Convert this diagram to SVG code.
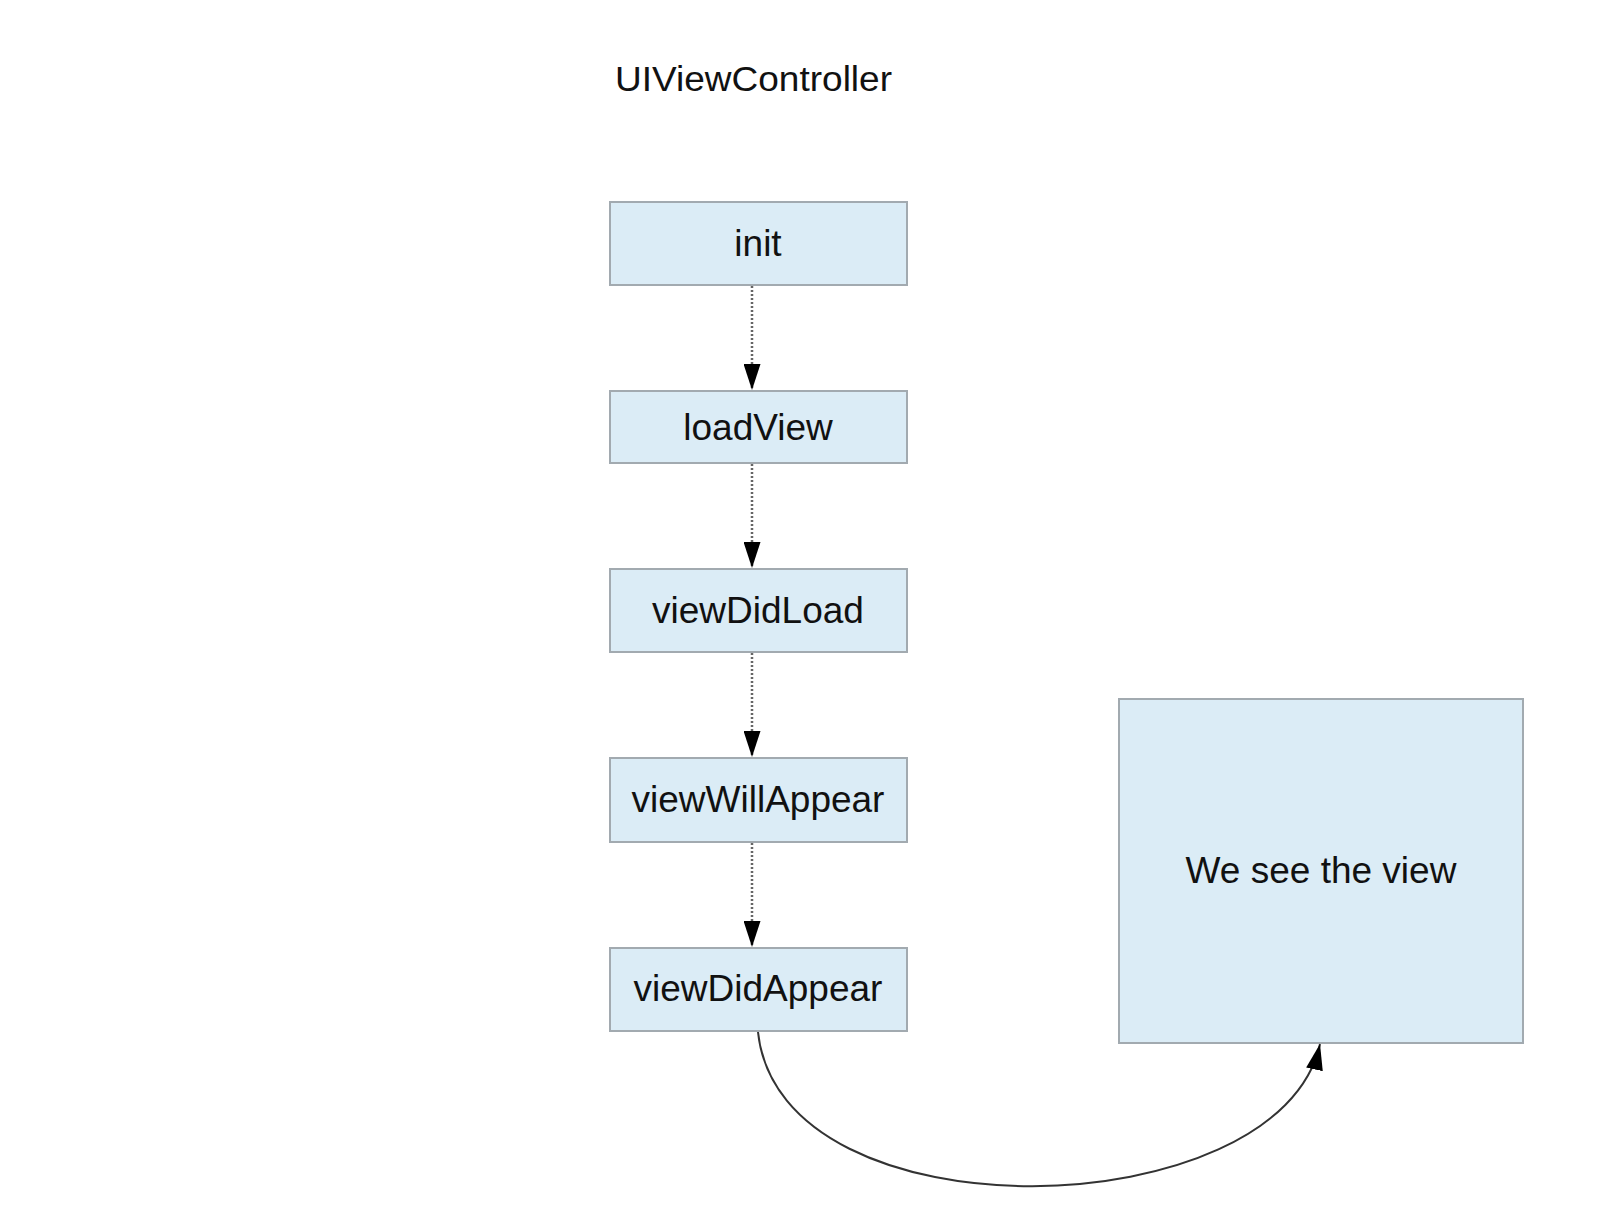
<svg xmlns="http://www.w3.org/2000/svg" width="1624" height="1224" viewBox="0 0 1624 1224">
  <style>
    .box { fill: #dbecf6; stroke: #a2aab0; stroke-width: 2; }
    .lbl { font-family: "Liberation Sans", Arial, sans-serif; font-size: 37px; fill: #111; text-anchor: middle; }
    .title { font-family: "Liberation Sans", Arial, sans-serif; font-size: 35px; fill: #111; text-anchor: middle; }
    .dot { fill: none; stroke: #666; stroke-width: 2.5; stroke-dasharray: 2 2; }
    .solid { fill: none; stroke: #333; stroke-width: 2; }
  </style>
  <defs>
    <marker id="arrow" viewBox="0 0 26 17" refX="26" refY="8.5" markerWidth="26" markerHeight="17" markerUnits="userSpaceOnUse" orient="auto">
      <path d="M0,0 L26,8.5 L0,17 Z" fill="#000"/>
    </marker>
  </defs>
  <rect width="1624" height="1224" fill="#fff"/>

  <text class="title" x="753.5" y="91" textLength="277" lengthAdjust="spacingAndGlyphs">UIViewController</text>

  <g id="node-init">
    <rect class="box" x="610" y="202" width="297" height="83"/>
    <text class="lbl" x="758" y="256">init</text>
  </g>
  <g id="node-loadView">
    <rect class="box" x="610" y="391" width="297" height="72"/>
    <text class="lbl" x="758" y="439.5">loadView</text>
  </g>
  <g id="node-viewDidLoad">
    <rect class="box" x="610" y="569" width="297" height="83"/>
    <text class="lbl" x="758" y="623">viewDidLoad</text>
  </g>
  <g id="node-viewWillAppear">
    <rect class="box" x="610" y="758" width="297" height="84"/>
    <text class="lbl" x="758" y="812">viewWillAppear</text>
  </g>
  <g id="node-viewDidAppear">
    <rect class="box" x="610" y="948" width="297" height="83"/>
    <text class="lbl" x="758" y="1001">viewDidAppear</text>
  </g>
  <g id="node-weSeeTheView">
    <rect class="box" x="1119" y="699" width="404" height="344"/>
    <text class="lbl" x="1321" y="883">We see the view</text>
  </g>

  <g id="connectors">
    <path class="dot" d="M752,286 L752,390" marker-end="url(#arrow)"/>
    <path class="dot" d="M752,464 L752,568" marker-end="url(#arrow)"/>
    <path class="dot" d="M752,653 L752,757" marker-end="url(#arrow)"/>
    <path class="dot" d="M752,843 L752,947" marker-end="url(#arrow)"/>
    <path class="solid" d="M758,1032 C780,1243 1280,1228 1320,1044" marker-end="url(#arrow)"/>
  </g>
</svg>
